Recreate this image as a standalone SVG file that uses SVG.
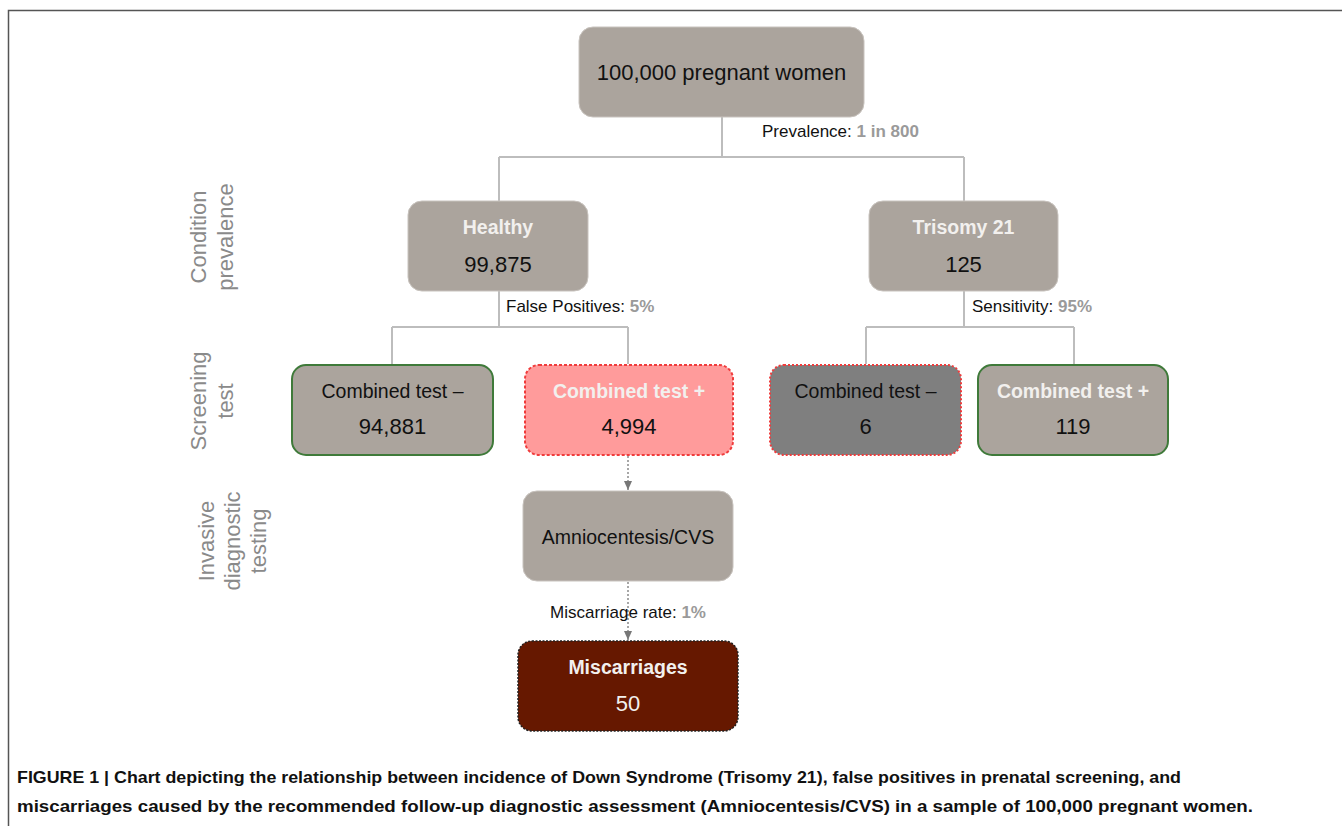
<svg xmlns="http://www.w3.org/2000/svg" width="1342" height="826" viewBox="0 0 1342 826">
<defs>
<style>
.n{fill:#aba49d;stroke:#c8c3be;stroke-width:1}
.g{fill:#aba49d;stroke:#3f7a3a;stroke-width:2}
.t{font-family:"Liberation Sans",Arial,sans-serif;fill:#111;text-anchor:middle}
.big{font-size:22px}
.med{font-size:19.5px}
.bw{font-size:19.5px;font-weight:bold;fill:#f2f0ee}
.lab{font-family:"Liberation Sans",Arial,sans-serif;font-size:17px;fill:#111}
.gv{fill:#9a9a9a;font-weight:bold}
.side{font-family:"Liberation Sans",Arial,sans-serif;font-size:22px;fill:#8a8a8a;text-anchor:middle}
.c{stroke:#bdbdbd;stroke-width:2;fill:none}
.d{stroke:#8a8a8a;stroke-width:1.5;fill:none;stroke-dasharray:2 2}
.cap{font-family:"Liberation Sans",Arial,sans-serif;font-size:17px;font-weight:bold;fill:#111}
</style>
<marker id="ah" markerWidth="10" markerHeight="10" refX="9" refY="5" orient="auto" markerUnits="userSpaceOnUse" viewBox="0 0 10 10">
<path d="M0,1 L9,5 L0,9 Z" fill="#777"/>
</marker>
</defs>
<rect width="1342" height="826" fill="#fff"/>
<path d="M8.5,826 V10.5 H1342" fill="none" stroke="#555" stroke-width="1.5"/>

<g id="connectors">
<path class="c" d="M722,117 V157 M499,157 H964 M499,157 V202 M964,157 V202"/>
<path class="c" d="M499,291 V327 M392,327 H628 M392,327 V364 M628,327 V364"/>
<path class="c" d="M964,291 V327 M866,327 H1074 M866,327 V364 M1074,327 V364"/>
<path class="d" d="M628,456 V490" marker-end="url(#ah)"/>
<path class="d" d="M628,582 V640" marker-end="url(#ah)"/>
</g>

<g id="side-labels">
<text class="side" transform="translate(206,237) rotate(-90)">Condition</text>
<text class="side" transform="translate(233,237) rotate(-90)">prevalence</text>
<text class="side" transform="translate(206,401) rotate(-90)">Screening</text>
<text class="side" transform="translate(233,401) rotate(-90)">test</text>
<text class="side" transform="translate(214,541) rotate(-90)">Invasive</text>
<text class="side" transform="translate(240,541) rotate(-90)">diagnostic</text>
<text class="side" transform="translate(266,541) rotate(-90)">testing</text>
</g>

<g id="root">
<rect class="n" x="579" y="27" width="285" height="90" rx="14"/>
<text class="t big" x="721.5" y="80">100,000 pregnant women</text>
</g>
<text class="lab" x="762" y="137">Prevalence: <tspan class="gv">1 in 800</tspan></text>

<g id="healthy">
<rect class="n" x="408" y="201" width="180" height="90" rx="14"/>
<text class="t bw" x="498" y="234">Healthy</text>
<text class="t big" x="498" y="272">99,875</text>
</g>
<text class="lab" x="506" y="312">False Positives: <tspan class="gv">5%</tspan></text>

<g id="trisomy">
<rect class="n" x="869" y="201" width="189" height="90" rx="14"/>
<text class="t bw" x="963.5" y="234">Trisomy 21</text>
<text class="t big" x="963.5" y="272">125</text>
</g>
<text class="lab" x="972" y="312">Sensitivity: <tspan class="gv">95%</tspan></text>

<g id="healthy-neg">
<rect class="g" x="292" y="365" width="201" height="90" rx="14"/>
<text class="t med" x="392.5" y="398">Combined test –</text>
<text class="t big" x="392.5" y="434">94,881</text>
</g>

<g id="healthy-pos">
<rect x="525" y="365" width="208" height="90" rx="14" fill="#ff9b9b" stroke="#f03c3c" stroke-width="2" stroke-dasharray="3 2"/>
<text class="t bw" x="629" y="398">Combined test +</text>
<text class="t big" x="629" y="434">4,994</text>
</g>

<g id="t21-neg">
<rect x="770" y="365" width="191" height="90" rx="14" fill="#7f7f7f" stroke="#f03c3c" stroke-width="2" stroke-dasharray="2 2"/>
<text class="t med" x="865.5" y="398">Combined test –</text>
<text class="t big" x="865.5" y="434">6</text>
</g>

<g id="t21-pos">
<rect class="g" x="978" y="365" width="190" height="90" rx="14"/>
<text class="t bw" x="1073" y="398">Combined test +</text>
<text class="t big" x="1073" y="434">119</text>
</g>

<g id="amnio">
<rect class="n" x="523" y="491" width="210" height="90" rx="14"/>
<text class="t med" x="628" y="544">Amniocentesis/CVS</text>
</g>
<text class="lab" x="628" y="618" text-anchor="middle">Miscarriage rate: <tspan class="gv">1%</tspan></text>

<g id="miscarriages">
<rect x="518" y="641" width="220" height="90" rx="14" fill="#661800" stroke="#222" stroke-width="1.5" stroke-dasharray="2 1.5"/>
<text class="t bw" x="628" y="674">Miscarriages</text>
<text class="t big" x="628" y="711" style="fill:#f2f0ee">50</text>
</g>

<g id="caption">
<text class="cap" x="17" y="783" textLength="1164" lengthAdjust="spacingAndGlyphs">FIGURE 1 | Chart depicting the relationship between incidence of Down Syndrome (Trisomy 21), false positives in prenatal screening, and</text>
<text class="cap" x="17" y="812" textLength="1236" lengthAdjust="spacingAndGlyphs">miscarriages caused by the recommended follow-up diagnostic assessment (Amniocentesis/CVS) in a sample of 100,000 pregnant women.</text>
</g>
</svg>
